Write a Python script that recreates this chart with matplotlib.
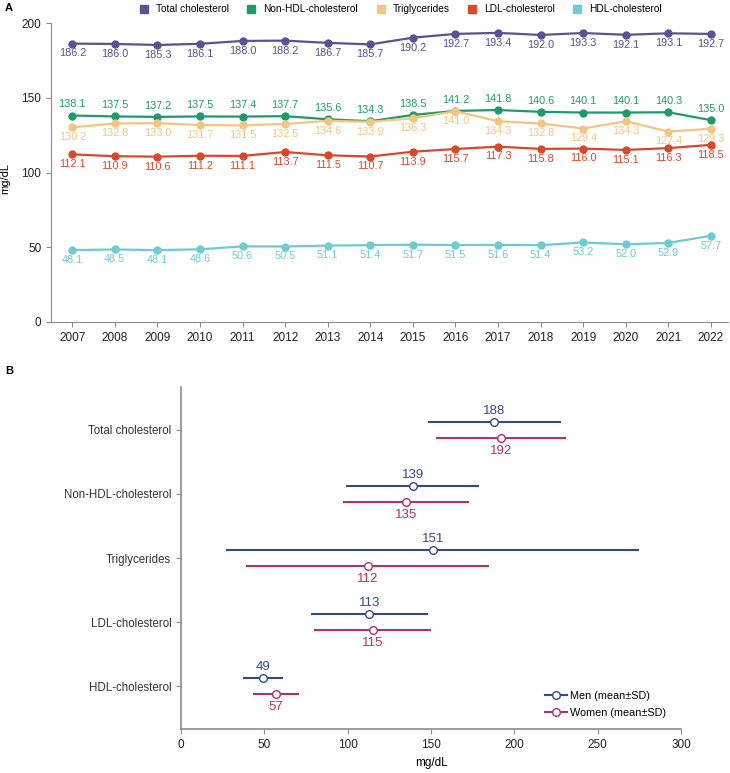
import numpy as np
import matplotlib.pyplot as plt
from matplotlib.lines import Line2D

plt.rcParams['font.family'] = ['Liberation Sans Narrow', 'Liberation Sans', 'DejaVu Sans']
REG = ['Liberation Sans', 'DejaVu Sans']

years = list(range(2007, 2023))
total_chol = [186.2, 186.0, 185.3, 186.1, 188.0, 188.2, 186.7, 185.7, 190.2, 192.7, 193.4, 192.0, 193.3, 192.1, 193.1, 192.7]
non_hdl = [138.1, 137.5, 137.2, 137.5, 137.4, 137.7, 135.6, 134.3, 138.5, 141.2, 141.8, 140.6, 140.1, 140.1, 140.3, 135.0]
trig = [130.2, 132.8, 133.0, 131.7, 131.5, 132.5, 134.6, 133.9, 136.3, 141.0, 134.3, 132.8, 129.4, 134.3, 127.4, 129.3]
ldl = [112.1, 110.9, 110.6, 111.2, 111.1, 113.7, 111.5, 110.7, 113.9, 115.7, 117.3, 115.8, 116.0, 115.1, 116.3, 118.5]
hdl = [48.1, 48.5, 48.1, 48.6, 50.6, 50.5, 51.1, 51.4, 51.7, 51.5, 51.6, 51.4, 53.2, 52.0, 52.9, 57.7]

series_names = ['Total cholesterol', 'Non-HDL-cholesterol', 'Triglycerides', 'LDL-cholesterol', 'HDL-cholesterol']
series_vals = [total_chol, non_hdl, trig, ldl, hdl]
series_colors = ['#5C5192', '#1E9B6C', '#F4C582', '#D8492C', '#6DCBD1']
label_above = [False, True, False, False, False]

# panel B
categories = ['Total cholesterol', 'Non-HDL-cholesterol', 'Triglycerides', 'LDL-cholesterol', 'HDL-cholesterol']
men_mean = [188, 139, 151, 113, 49]
men_sd = [40, 40, 124, 35, 12]
women_mean = [192, 135, 112, 115, 57]
women_sd = [39, 38, 73, 35, 14]
men_color = '#2F4B8E'
women_color = '#B02F70'
axis_gray = '#8c8c8c'

fig = plt.figure(figsize=(7.3, 7.73), dpi=100)

# ---- Panel A ----
axA = fig.add_axes([51/730, 1-322/773, 677/730, 299/773])
for name, vals, col, above in zip(series_names, series_vals, series_colors, label_above):
    axA.plot(years, vals, color=col, lw=1.6, marker='o', ms=5, label=name, zorder=3)
    for x, v in zip(years, vals):
        axA.annotate(f'{v:.1f}', (x, v), xytext=(0, 4.5 if above else -3.5), textcoords='offset points',
                     ha='center', va='bottom' if above else 'top', fontsize=7.8, color=col)

axA.set_xlim(2006.5, 2022.4)
axA.set_ylim(0, 200)
axA.set_yticks([0, 50, 100, 150, 200])
axA.set_xticks(years)
axA.set_ylabel('mg/dL', fontsize=8, family=REG)
axA.yaxis.set_label_coords(-41/677, 0.48)
for s in ['top', 'right']:
    axA.spines[s].set_visible(False)
for s in ['left', 'bottom']:
    axA.spines[s].set_color(axis_gray)
axA.tick_params(colors=axis_gray, labelcolor='#222222', labelsize=8.5, length=3.5)
for lab in axA.get_xticklabels() + axA.get_yticklabels():
    lab.set_family(REG)

handles = [Line2D([], [], marker='s', ls='none', color=c, ms=6) for c in series_colors]
fig.legend(handles, series_names, loc='upper center', bbox_to_anchor=(398/730, 1.006), ncol=5,
           frameon=False, fontsize=7.3, handletextpad=0.2, columnspacing=1.2)

fig.text(5/730, 1-8/773, 'A', fontsize=8, fontweight='bold', va='center', family=REG)
fig.text(5/730, 1-371/773, 'B', fontsize=8, fontweight='bold', va='center', family=REG)

# ---- Panel B ----
axB = fig.add_axes([181/730, 1-729/773, 500/730, 342/773])
ypos = np.arange(len(categories))
off = 0.12
axB.errorbar(men_mean, ypos - off, xerr=men_sd, fmt='o', color=men_color, mfc='white', mec=men_color,
             ms=5.5, elinewidth=1.5, capsize=0, zorder=3)
axB.errorbar(women_mean, ypos + off, xerr=women_sd, fmt='o', color=women_color, mfc='white', mec=women_color,
             ms=5.5, elinewidth=1.5, capsize=0, zorder=3)
for y, m, w in zip(ypos, men_mean, women_mean):
    axB.annotate(f'{m}', (m, y - off), xytext=(0, 4), textcoords='offset points', ha='center', va='bottom',
                 fontsize=9.5, color=men_color)
    axB.annotate(f'{w}', (w, y + off), xytext=(0, -5), textcoords='offset points', ha='center', va='top',
                 fontsize=9.5, color=women_color)

axB.set_xlim(0, 300)
axB.set_ylim(len(categories) - 1 + 0.67, -0.67)
axB.set_yticks(ypos)
axB.set_yticklabels(categories)
axB.set_xlabel('mg/dL', fontsize=8.5, family=REG)
axB.xaxis.set_label_coords(0.5, -28/342)
for s in ['top', 'right']:
    axB.spines[s].set_visible(False)
for s in ['left', 'bottom']:
    axB.spines[s].set_color(axis_gray)
    axB.spines[s].set_linewidth(1.2)
axB.tick_params(colors=axis_gray, labelcolor='#333333', labelsize=8.3, length=3.5)
axB.tick_params(axis='x', labelcolor='#222222', labelsize=8.5)
for lab in axB.get_xticklabels():
    lab.set_family(REG)
leg_handles = [Line2D([], [], color=men_color, lw=1.5, marker='o', mfc='white', mec=men_color, ms=5.5),
               Line2D([], [], color=women_color, lw=1.5, marker='o', mfc='white', mec=women_color, ms=5.5)]
axB.legend(leg_handles, ['Men (mean\u00b1SD)', 'Women (mean\u00b1SD)'], loc='lower right',
           bbox_to_anchor=(0.99, 0.005), frameon=False, prop={'family': REG, 'size': 7.8},
           handlelength=2.0, handletextpad=0.3, labelspacing=0.6)

fig.savefig('out.png', dpi=100)
